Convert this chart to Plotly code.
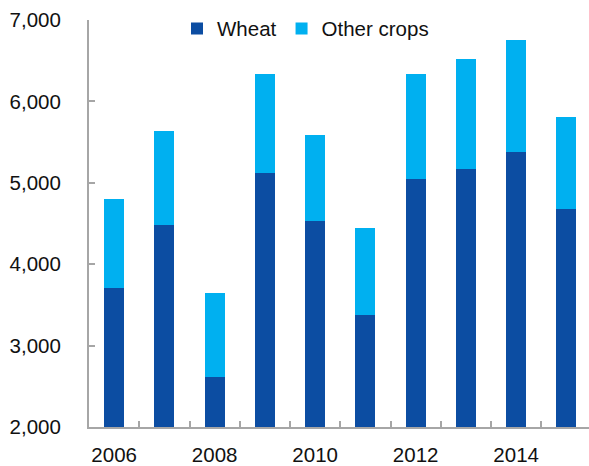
import plotly.graph_objects as go

years = [2006, 2007, 2008, 2009, 2010, 2011, 2012, 2013, 2014, 2015]
wheat = [3710, 4480, 2620, 5120, 4530, 3380, 5050, 5170, 5380, 4680]
other_crops = [1090, 1160, 1025, 1220, 1060, 1065, 1290, 1345, 1375, 1130]
x_tick_years = [2006, 2008, 2010, 2012, 2014]
y_ticks = [2000, 3000, 4000, 5000, 6000, 7000]

fig = go.Figure()
fig.add_trace(go.Bar(x=years, y=wheat, name="Wheat", marker=dict(color="#0C4DA2", line=dict(width=0)), width=0.4))
fig.add_trace(go.Bar(x=years, y=other_crops, name="Other crops", marker=dict(color="#00B0F0", line=dict(width=0)), width=0.4))

font = dict(family="Liberation Sans, Arial, sans-serif", size=20.5, color="#111111")
fig.update_layout(
    barmode="stack",
    width=589, height=466,
    margin=dict(l=89, r=0, t=20, b=37),
    plot_bgcolor="white", paper_bgcolor="white",
    font=font,
    showlegend=True,
    legend=dict(orientation="h", x=0.176, xanchor="left", y=1.028, yanchor="top",
                bgcolor="rgba(0,0,0,0)", font=font, itemwidth=30, traceorder="normal"),
    xaxis=dict(range=[2005.5, 2015.45], tickvals=x_tick_years, ticktext=[str(v) for v in x_tick_years],
               ticks="", showline=True, linecolor="#A6A6A6", linewidth=2, showgrid=False, zeroline=False,
               minor=dict(tickvals=[y + 0.5 for y in years[:-1]], ticks="inside", ticklen=6, tickcolor="#A6A6A6", tickwidth=2, showgrid=False),
               ticklabelstandoff=8),
    yaxis=dict(range=[2000, 7000], tickvals=y_ticks, tickformat=",", ticks="inside", ticklen=6,
               tickcolor="#A6A6A6", tickwidth=2, showline=True, linecolor="#A6A6A6", linewidth=2,
               showgrid=False, zeroline=False, ticklabelstandoff=22),
)
fig.write_html("out.html")
